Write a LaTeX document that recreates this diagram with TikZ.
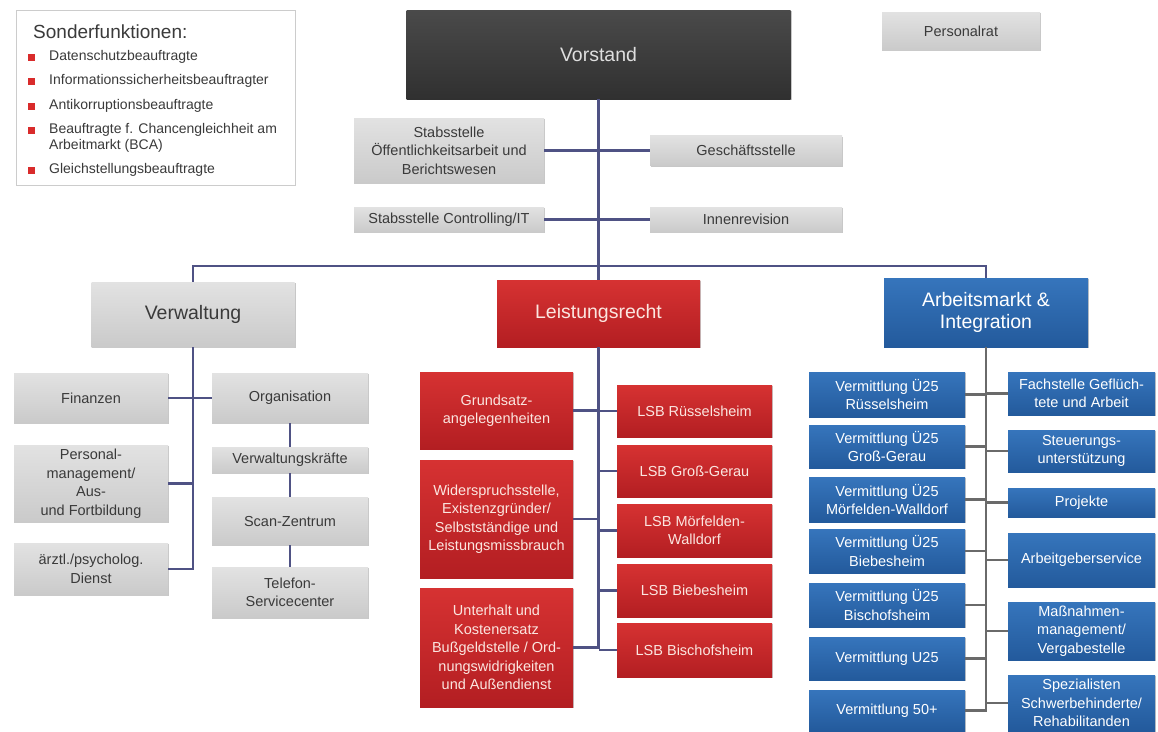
\documentclass[tikz,border=0pt]{standalone}
\usepackage{fontspec}
\setmainfont{Liberation Sans}
\usetikzlibrary{shadows}
\definecolor{gtop}{HTML}{E2E2E2}
\definecolor{gbot}{HTML}{CACACA}
\definecolor{gtext}{HTML}{3A3A3A}
\definecolor{rtop}{HTML}{D63232}
\definecolor{rbot}{HTML}{B31E22}
\definecolor{rtext}{HTML}{FBE6E0}
\definecolor{btop}{HTML}{3675BC}
\definecolor{bbot}{HTML}{235A9C}
\definecolor{dtop}{HTML}{4A4A4A}
\definecolor{dbot}{HTML}{303030}
\definecolor{linecol}{HTML}{4F5284}
\definecolor{linegray}{HTML}{6A6A6A}
\definecolor{bulletred}{HTML}{D92B2B}
\newcommand\fsub{\fontsize{14.5}{18.5}\selectfont}
\newcommand\fhead{\fontsize{19.5}{22.5}\selectfont}
\newcommand\fleg{\fontsize{14}{16.5}\selectfont}
\begin{document}
\begin{tikzpicture}[x=1pt,y=-1pt,
  wh/.style n args={2}{minimum width=#1pt, minimum height=#2pt},
  box/.style={rectangle, inner sep=0pt, align=center, draw=none,
    drop shadow={shadow xshift=1.2pt, shadow yshift=-1.2pt, opacity=0.22, fill=black}},
  gbox/.style={box, top color=gtop, bottom color=gbot, text=gtext, font=\fsub},
  rbox/.style={box, top color=rtop, bottom color=rbot, text=rtext, font=\fsub},
  bbox/.style={box, top color=btop, bottom color=bbot, text=white, font=\fsub},
  dbox/.style={box, top color=dtop, bottom color=dbot, text=gray!25, font=\fhead},
  conn/.style={draw=linecol, line width=2.2pt},
  connB/.style={draw=linegray, line width=2.2pt},
  legtext/.style={anchor=west, inner sep=0pt, text=gtext, font=\fleg, align=left},
  bullet/.style={fill=bulletred, minimum size=7pt, inner sep=0pt, draw=none}
]
\useasboundingbox (0,0) rectangle (1158,731);
\fill[white] (0,0) rectangle (1158,731);

% Legend
\node[draw=gray!40, fill=white, wh={279}{175}, inner sep=0pt,
  drop shadow={shadow xshift=1pt, shadow yshift=-1pt, opacity=0.15, fill=black}] (legend) at (155.5,97.5) {};
\node[legtext, font=\fontsize{19}{22}\selectfont] (legtitle) at (33,32) {Sonderfunktionen:};
\node[bullet] (b1) at (31,57) {};
\node[legtext] (l1) at (49,57) {Datenschutzbeauftragte};
\node[bullet] (b2) at (31,81) {};
\node[legtext] (l2) at (49,81) {Informationssicherheitsbeauftragter};
\node[bullet] (b3) at (31,106) {};
\node[legtext] (l3) at (49,106) {Antikorruptionsbeauftragte};
\node[bullet] (b4) at (31,130) {};
\node[legtext] (l4) at (49,138) {Beauftragte f. Chancengleichheit am\\Arbeitmarkt (BCA)};
\node[bullet] (b5) at (31,170) {};
\node[legtext] (l5) at (49,170) {Gleichstellungsbeauftragte};

% Top
\node[dbox, wh={384}{89}] (vorstand) at (598.5,54.5) {Vorstand};
\node[gbox, wh={158}{38}] (personalrat) at (961,31) {Personalrat};
\node[gbox, wh={190}{65}] (stabo) at (449,150.5) {Stabsstelle\\Öffentlichkeitsarbeit und\\Berichtswesen};
\node[gbox, wh={192}{30}] (gesch) at (746,150.5) {Geschäftsstelle};
\node[gbox, wh={190}{25}] (stabc) at (449,219.5) {Stabsstelle Controlling/IT};
\node[gbox, wh={192}{25}] (innen) at (746,219.5) {Innenrevision};

% Divisions
\node[gbox, font=\fhead, wh={203}{65}] (verw) at (193,314.5) {Verwaltung};
\node[rbox, font=\fhead, wh={203}{67}] (leist) at (598.5,313.5) {Leistungsrecht};
\node[bbox, font=\fhead, wh={204}{69}] (arb) at (986,312.5) {Arbeitsmarkt \&\\Integration};

% Verwaltung children
\node[gbox, wh={154}{50}] (fin) at (91,398) {Finanzen};
\node[gbox, wh={154}{77}] (pers) at (91,483.5) {Personal-\\management/\\Aus-\\und Fortbildung};
\node[gbox, wh={154}{52}] (aerztl) at (91,569) {ärztl./psycholog.\\Dienst};
\node[gbox, wh={156}{50}] (org) at (290,398) {Organisation};
\node[gbox, wh={156}{26}] (vk) at (290,460) {Verwaltungskräfte};
\node[gbox, wh={156}{48}] (scan) at (290,521) {Scan-Zentrum};
\node[gbox, wh={156}{51}] (tel) at (290,592.5) {Telefon-\\Servicecenter};

% Leistungsrecht children
\node[rbox, wh={153}{77}] (grund) at (496.5,410.5) {Grundsatz-\\angelegenheiten};
\node[rbox, wh={153}{118}] (wider) at (496.5,519) {Widerspruchsstelle,\\Existenzgründer/\\Selbstständige und\\Leistungsmissbrauch};
\node[rbox, wh={153}{119}] (unter) at (496.5,647.5) {Unterhalt und\\Kostenersatz\\Bußgeldstelle / Ord-\\nungswidrigkeiten\\und Außendienst};
\node[rbox, wh={155}{52}] (lsbr) at (694.5,411) {LSB Rüsselsheim};
\node[rbox, wh={155}{52}] (lsbg) at (694.5,471) {LSB Groß-Gerau};
\node[rbox, wh={155}{53}] (lsbm) at (694.5,530.5) {LSB Mörfelden-\\Walldorf};
\node[rbox, wh={155}{53}] (lsbbi) at (694.5,590.5) {LSB Biebesheim};
\node[rbox, wh={155}{54}] (lsbbs) at (694.5,650) {LSB Bischofsheim};

% Arbeitsmarkt children
\node[bbox, wh={156}{45}] (vr) at (887,394.5) {Vermittlung Ü25\\Rüsselsheim};
\node[bbox, wh={156}{43}] (vg) at (887,446.5) {Vermittlung Ü25\\Groß-Gerau};
\node[bbox, wh={156}{45}] (vm) at (887,499.5) {Vermittlung Ü25\\Mörfelden-Walldorf};
\node[bbox, wh={156}{44}] (vbi) at (887,551) {Vermittlung Ü25\\Biebesheim};
\node[bbox, wh={156}{44}] (vbs) at (887,605) {Vermittlung Ü25\\Bischofsheim};
\node[bbox, wh={156}{43}] (vu) at (887,658.5) {Vermittlung U25};
\node[bbox, wh={156}{41}] (v50) at (887,710.5) {Vermittlung 50+};
\node[bbox, wh={147}{43}] (fach) at (1081.5,393.5) {Fachstelle Geflüch-\\tete und Arbeit};
\node[bbox, wh={147}{42}] (steu) at (1081.5,451) {Steuerungs-\\unterstützung};
\node[bbox, wh={147}{29}] (proj) at (1081.5,502.5) {Projekte};
\node[bbox, wh={147}{54}] (ag) at (1081.5,560) {Arbeitgeberservice};
\node[bbox, wh={147}{58}] (mass) at (1081.5,631) {Maßnahmen-\\management/\\Vergabestelle};
\node[bbox, wh={147}{56}] (spez) at (1081.5,703) {Spezialisten\\Schwerbehinderte/\\Rehabilitanden};

% Connectors top
\draw[conn] (vorstand.south) -- (leist.north);
\draw[conn] (stabo.east) -- (gesch.west);
\draw[conn] (stabc.east) -- (innen.west);
\draw[conn] (verw.north) -- ++(0,-16) -| (arb.north);

% Verwaltung connectors
\draw[conn] (verw.south) |- (aerztl.east);
\draw[conn] (pers.east) -- (pers.east -| verw.south);
\draw[conn] (fin.east) -- (org.west);
\draw[conn] (org.south) -- (vk.north);
\draw[conn] (vk.south) -- (scan.north);
\draw[conn] (scan.south) -- (tel.north);

% Leistungsrecht connectors
\draw[conn] (leist.south) |- (unter.east);
\draw[conn] (grund.east) -- (grund.east -| leist.south);
\draw[conn] (wider.east) -- (wider.east -| leist.south);
\draw[conn] (lsbr.west) -- (lsbr.west -| leist.south);
\draw[conn] (lsbg.west) -- (lsbg.west -| leist.south);
\draw[conn] (lsbm.west) -- (lsbm.west -| leist.south);
\draw[conn] (lsbbi.west) -- (lsbbi.west -| leist.south);
\draw[conn] (lsbbs.west) -- (lsbbs.west -| leist.south);

% Arbeitsmarkt connectors
\draw[connB] (arb.south) |- (v50.east);
\foreach \n in {vr,vg,vm,vbi,vbs,vu}{
  \draw[connB] (\n.east) -- (\n.east -| arb.south);
}
\foreach \n in {fach,steu,proj,ag,mass,spez}{
  \draw[connB] (\n.west) -- (\n.west -| arb.south);
}
\end{tikzpicture}
\end{document}
